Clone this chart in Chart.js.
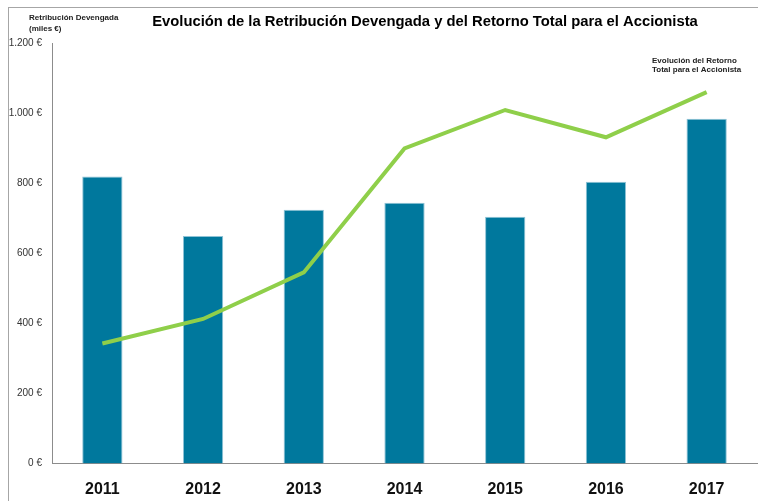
<!DOCTYPE html>
<html><head><meta charset="utf-8">
<script src="https://cdn.jsdelivr.net/npm/chart.js@4.4.0/dist/chart.umd.min.js"></script>
<style>
html,body{margin:0;padding:0;background:#fff;}
#wrap{position:relative;width:758px;height:501px;overflow:hidden;background:#fff;}
#frame{position:absolute;left:8px;top:7px;width:800px;height:600px;border-top:1px solid #a6a6a6;border-left:1px solid #a6a6a6;box-sizing:border-box;pointer-events:none;}
canvas{position:absolute;left:0;top:0;}
</style></head><body>
<div id="wrap"><canvas id="c" width="758" height="501"></canvas><div id="frame"></div></div>
<script>
const categories = ['2011', '2012', '2013', '2014', '2015', '2016', '2017'];
const retribucionDevengada = [820, 650, 725, 745, 705, 805, 985];
const retornoTotal = [343, 413, 546, 900, 1010, 932, 1061];
const yTickValues = [0, 200, 400, 600, 800, 1000, 1200];
const yTickLabels = ['0 €', '200 €', '400 €', '600 €', '800 €', '1.000 €', '1.200 €'];
const titleText = 'Evolución de la Retribución Devengada y del Retorno Total para el Accionista';
const yAxisNote = ['Retribución Devengada', '(miles €)'];
const lineNote = ['Evolución del Retorno', 'Total para el Accionista'];

const SANS = "'Liberation Sans', Arial, sans-serif";

const textPlugin = {
  id: 'texts',
  afterDraw(chart) {
    const ctx = chart.ctx;
    ctx.save();
    ctx.fillStyle = '#000';
    ctx.textBaseline = 'middle';
    ctx.textAlign = 'center';
    ctx.font = 'bold 14.8px ' + SANS;
    ctx.fillText(titleText, 425, 22);
    ctx.textAlign = 'left';
    ctx.font = 'bold 8px ' + SANS;
    ctx.fillStyle = '#222';
    ctx.fillText(yAxisNote[0], 29, 17.5);
    ctx.fillText(yAxisNote[1], 29, 29);
    ctx.fillText(lineNote[0], 652, 61);
    ctx.fillText(lineNote[1], 652, 70);
    ctx.restore();
  }
};

new Chart(document.getElementById('c'), {
  data: {
    labels: categories,
    datasets: [
      {
        type: 'line',
        label: 'Retorno Total para el Accionista',
        data: retornoTotal,
        borderColor: '#8fcf4a',
        borderWidth: 4,
        pointRadius: 0,
        tension: 0,
        fill: false,
        order: 0
      },
      {
        type: 'bar',
        label: 'Retribución Devengada',
        data: retribucionDevengada,
        backgroundColor: '#00789d',
        borderColor: '#8fc3d6',
        borderWidth: 1,
        barPercentage: 0.4,
        categoryPercentage: 1.0,
        order: 1
      }
    ]
  },
  options: {
    responsive: false,
    animation: false,
    devicePixelRatio: 1,
    layout: { padding: { top: 43.5, right: 1, left: 0, bottom: 0 } },
    plugins: { legend: { display: false }, tooltip: { enabled: false }, title: { display: false } },
    scales: {
      x: {
        grid: { display: false },
        border: { display: true, color: '#8c8c8c', width: 1 },
        ticks: { color: '#111', font: { family: SANS, size: 16, weight: 'bold' }, padding: 8, maxRotation: 0 },
        afterFit(s) { s.height = 37.5; }
      },
      y: {
        min: 0, max: 1200,
        afterBuildTicks(s) { s.ticks = yTickValues.map(v => ({ value: v })); },
        grid: { display: false },
        border: { display: true, color: '#8c8c8c', width: 1 },
        ticks: {
          color: '#333',
          font: { family: SANS, size: 10 },
          padding: 2,
          callback: (v) => yTickLabels[yTickValues.indexOf(v)]
        },
        afterFit(s) { s.width = 52; }
      }
    }
  },
  plugins: [textPlugin]
});
</script>
</body></html>
